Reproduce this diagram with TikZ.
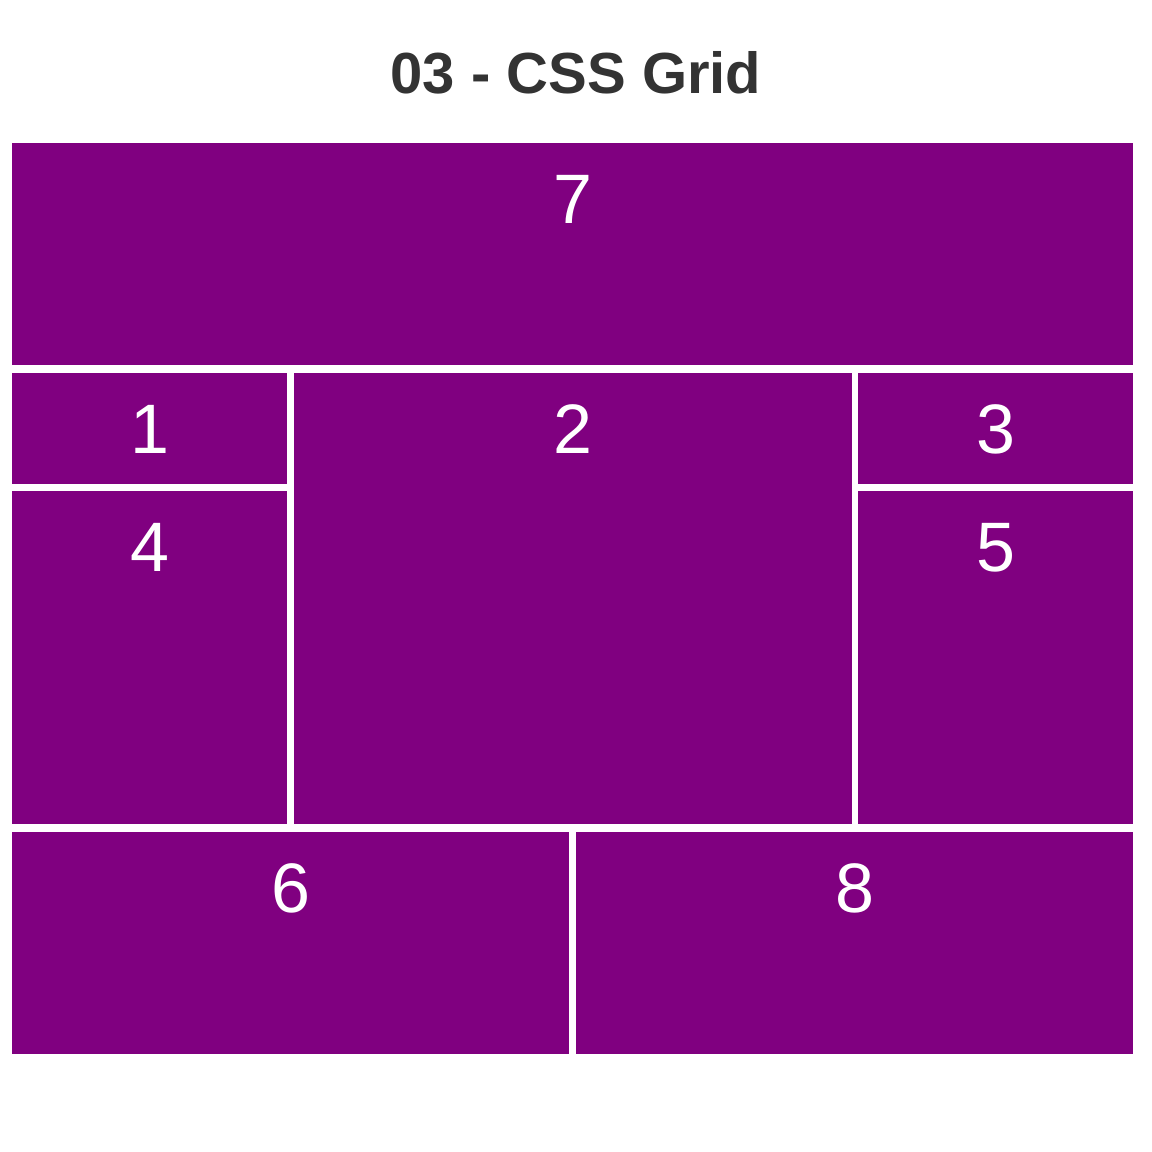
\documentclass[tikz,border=0pt]{standalone}
\usepackage{fontspec}
\setmainfont{Liberation Sans}
\usetikzlibrary{positioning,calc}
\definecolor{cCell}{HTML}{800080}
\definecolor{cTitle}{HTML}{333333}
\tikzset{
  cell/.style={fill=cCell, draw=none, inner sep=0pt, outer sep=0pt,
     anchor=north west},
  num/.style={text=white, anchor=base, inner sep=0pt,
     font=\fontsize{70}{84}\selectfont},
  headline/.style={text=cTitle, anchor=base, inner sep=0pt,
     font=\bfseries\fontsize{58}{70}\selectfont},
}

\begin{document}
\begin{tikzpicture}[x=1pt, y=-1pt]
  \useasboundingbox (0,0) rectangle (1152,1152);
  \node[headline] (title) at (576,93) {03 - CSS Grid};
  % grid areas, one node per cell
  \node[cell, minimum width=1121pt, minimum height=222pt] (c7) at (12,143) {};
  \node[cell, minimum width=275pt, minimum height=111pt] (c1) at (12,373) {};
  \node[cell, minimum width=558pt, minimum height=451pt] (c2) at (294,373) {};
  \node[cell, minimum width=275pt, minimum height=111pt] (c3) at (858,373) {};
  \node[cell, minimum width=275pt, minimum height=333pt] (c4) at (12,491) {};
  \node[cell, minimum width=275pt, minimum height=333pt] (c5) at (858,491) {};
  \node[cell, minimum width=557pt, minimum height=222pt] (c6) at (12,832) {};
  \node[cell, minimum width=557pt, minimum height=222pt] (c8) at (576,832) {};
  % numbers sit near the top edge of each cell
  \foreach \k in {1,...,8}
    \node[num] (n\k) at ([yshift=-80pt]c\k.north) {\k};
\end{tikzpicture}
\end{document}
